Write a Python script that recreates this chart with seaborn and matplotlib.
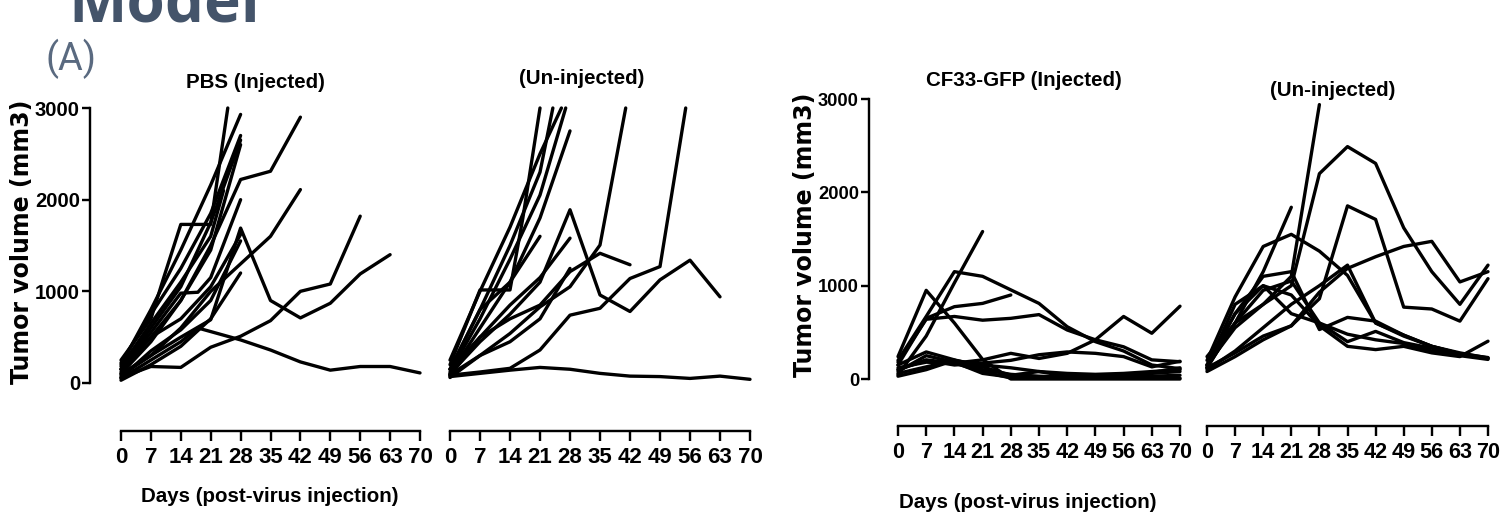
import numpy as np
import pandas as pd
import seaborn as sns
import matplotlib
matplotlib.use("Agg")
import matplotlib.pyplot as plt
from matplotlib import font_manager

# ---- data ----
days_grid = [0, 7, 14, 21, 28, 35, 42, 49, 56, 63, 70]

pbs_inj_days = [
    [0, 7, 10, 14, 21, 25],
    [0, 7, 14, 21, 28],
    [0, 7, 14, 21, 28],
    [0, 7, 14, 21, 28],
    [0, 7, 14, 21, 28],
    [0, 7, 14, 21, 28, 35, 42],
    [0, 7, 14, 21, 28, 35, 42],
    [0, 7, 14, 21, 28, 35, 42, 49, 56, 63],
    [0, 7, 14, 21, 28, 35, 42, 49, 56],
    [0, 7, 14, 18, 28, 35, 42, 49, 56, 63, 70],
    [0, 7, 14, 21, 24],
    [0, 7, 14, 21, 28],
    [0, 7, 14, 18, 21, 28],
    [0, 7, 14, 21, 28],
    [0, 7, 14, 21, 28],
]
pbs_inj_vol = [
    [250, 700, 1150, 1730, 1730, 3000],
    [200, 800, 1450, 2160, 2930],
    [150, 600, 1050, 1750, 2650],
    [100, 450, 900, 1450, 2600],
    [220, 750, 1250, 1850, 2700],
    [150, 500, 900, 1500, 2220, 2310, 2900],
    [80, 300, 600, 1000, 1300, 1600, 2110],
    [100, 300, 500, 690, 1690, 900, 710, 870, 1190, 1400],
    [60, 180, 170, 390, 510, 680, 1000, 1080, 1820],
    [50, 250, 450, 600, 470, 360, 230, 140, 180, 180, 110],
    [180, 650, 1100, 1600, 2100],
    [60, 350, 580, 900, 1550],
    [150, 550, 980, 990, 1150, 2000],
    [120, 500, 700, 1050, 1620],
    [30, 200, 400, 700, 1200],
]

pbs_un_days = [
    [0, 14, 21, 28, 35, 42, 49, 56, 63, 70],
    [0, 7, 14, 21, 28, 35, 42, 49, 55],
    [0, 7, 14, 21, 28, 35, 41],
    [0, 7, 14, 21, 28, 35, 42, 49, 56, 63],
    [0, 7, 14, 21, 28, 35, 42],
    [0, 7, 14, 17, 21],
    [0, 7, 14, 21, 24],
    [0, 7, 14, 21, 26],
    [0, 7, 14, 21, 27],
    [0, 7, 14, 21, 28],
    [0, 7, 14, 21, 28],
    [0, 7, 14, 21],
    [0, 7, 14, 21, 28],
]
pbs_un_vol = [
    [70, 140, 170, 150, 105, 75, 70, 50, 75, 40],
    [85, 120, 160, 360, 740, 815, 1140, 1270, 3000],
    [90, 300, 540, 830, 1050, 1505, 3000],
    [100, 450, 750, 1100, 1890, 960, 780, 1125, 1340, 940],
    [150, 500, 700, 850, 1215, 1415, 1290],
    [200, 1015, 1015, 1800, 3000],
    [150, 800, 1500, 2300, 3000],
    [250, 1000, 1700, 2500, 3000],
    [120, 700, 1350, 2050, 3000],
    [100, 600, 1100, 1800, 2750],
    [80, 500, 850, 1150, 1580],
    [150, 800, 1100, 1600],
    [60, 300, 450, 700, 1250],
]

cf33_inj_days = [days_grid, [0, 7, 14, 21], days_grid, [0, 7, 14, 21, 28]] + [days_grid] * 8
cf33_inj_vol = [
    [240, 950, 600, 210, 0, 0, 0, 0, 0, 0, 0],
    [45, 460, 1030, 1580],
    [200, 670, 1150, 1100, 955, 810, 560, 400, 300, 150, 110],
    [150, 650, 775, 810, 900],
    [180, 640, 670, 630, 650, 690, 525, 420, 345, 205, 185],
    [100, 205, 170, 205, 275, 220, 275, 420, 670, 490, 780],
    [150, 290, 205, 130, 40, 80, 30, 20, 20, 30, 40],
    [60, 130, 200, 150, 120, 80, 60, 50, 60, 80, 100],
    [100, 200, 150, 170, 200, 260, 290, 275, 240, 130, 190],
    [30, 100, 200, 100, 50, 30, 20, 20, 30, 60, 80],
    [80, 250, 180, 60, 20, 10, 10, 10, 10, 10, 10],
    [120, 180, 170, 80, 10, 10, 20, 30, 40, 70, 120],
]

cf33_un_days = [days_grid, [0, 7, 14, 21, 28], [0, 7, 14, 21]] + [days_grid] * 8
cf33_un_vol = [
    [240, 600, 800, 1000, 2200, 2490, 2310, 1620, 1150, 800, 1220],
    [150, 550, 800, 1100, 2940],
    [120, 600, 1150, 1840],
    [120, 280, 460, 570, 860, 1855, 1710, 770, 750, 620, 1075],
    [200, 880, 1420, 1550, 1370, 1110, 600, 460, 350, 280, 225],
    [80, 240, 420, 570, 930, 1185, 1310, 1420, 1475, 1040, 1150],
    [100, 300, 550, 800, 1000, 1220, 600, 470, 350, 270, 220],
    [150, 700, 1100, 1150, 530, 660, 620, 470, 350, 270, 230],
    [120, 600, 950, 1050, 600, 400, 510, 390, 330, 260, 220],
    [150, 700, 1000, 900, 570, 350, 315, 350, 280, 240, 405],
    [130, 800, 1000, 700, 600, 480, 420, 380, 300, 250, 210],
]

panel_titles = ["PBS (Injected)", "(Un-injected)", "CF33-GFP (Injected)", "(Un-injected)"]
x_ticks = [0, 7, 14, 21, 28, 35, 42, 49, 56, 63, 70]
y_ticks = [0, 1000, 2000, 3000]


def to_frame(days, vols):
    rows = []
    for i, (d, v) in enumerate(zip(days, vols)):
        for x, y in zip(d, v):
            rows.append((i, x, y))
    return pd.DataFrame(rows, columns=["mouse", "day", "vol"])


sns.set_style("ticks", {"text.color": "black", "xtick.color": "black",
                        "ytick.color": "black", "axes.edgecolor": "black",
                        "axes.labelcolor": "black"})
avail = {f.name for f in font_manager.fontManager.ttflist}
if "Liberation Sans Narrow" in avail:
    narrow, k = "Liberation Sans Narrow", 1.0
else:
    narrow, k = "Liberation Sans", 0.82

W, H = 1503, 524
PT = 0.72  # points per pixel at dpi 100
fig = plt.figure(figsize=(W / 100, H / 100), dpi=100)

# pixel boxes: (x at day 0, x at day 70, y at 0, y at 3000, left spine x, x-axis y)
boxes = [
    (121, 420, 383, 108, 90, 431),
    (450, 750, 383, 108, None, 431),
    (898, 1180, 379, 99, 869, 426),
    (1207, 1488, 379, 99, None, 426),
]
data = [(pbs_inj_days, pbs_inj_vol), (pbs_un_days, pbs_un_vol),
        (cf33_inj_days, cf33_inj_vol), (cf33_un_days, cf33_un_vol)]

for i, ((x0, x1, y0, y1, sx, ay), (dd, vv)) in enumerate(zip(boxes, data)):
    ax = fig.add_axes([x0 / W, 1 - y0 / H, (x1 - x0) / W, (y0 - y1) / H])
    df = to_frame(dd, vv)
    sns.lineplot(data=df, x="day", y="vol", units="mouse", estimator=None,
                 color="black", lw=2.4, clip_on=False, ax=ax)
    ax.set_xlim(0, 70)
    ax.set_ylim(0, 3000)
    ax.set_xlabel("")
    ax.set_ylabel("")
    ax.patch.set_alpha(0)
    for s in ["top", "right"]:
        ax.spines[s].set_visible(False)
    ax.spines["bottom"].set_position(("outward", (ay - y0) * PT))
    ax.spines["bottom"].set_linewidth(2.4 * PT)
    ax.set_xticks(x_ticks)
    xfs = (19.5 if i < 2 else 19.0) * k
    ax.set_xticklabels([str(t) for t in x_ticks], fontsize=xfs,
                       fontweight="bold", family=narrow)
    ax.tick_params(axis="x", bottom=True, direction="out", length=10 * PT,
                   width=2.4 * PT, pad=6 * PT, colors="black")
    if sx is None:
        ax.spines["left"].set_visible(False)
        ax.set_yticks([])
    else:
        ax.spines["left"].set_position(("outward", (x0 - sx) * PT))
        ax.spines["left"].set_linewidth(2.4 * PT)
        ax.set_yticks(y_ticks)
        yfs = 14.6 if i < 2 else 13.2
        ax.set_yticklabels([str(t) for t in y_ticks], fontsize=yfs,
                           fontweight="bold", family=narrow)
        ax.tick_params(axis="y", left=True, direction="out", length=8 * PT,
                       width=2.4 * PT, pad=2 * PT, colors="black")

# titles
title_pos = [(255, 82), (582, 78), (1024, 81), (1333, 91)]
for t, (tx, ty) in zip(panel_titles, title_pos):
    fig.text(tx / W, 1 - ty / H, t, ha="center", va="center",
             fontsize=18 * k, fontweight="bold", family=narrow, color="black")

# axis labels
for (lx, ly) in [(22, 242), (805, 235)]:
    fig.text(lx / W, 1 - ly / H, "Tumor volume (mm3)", rotation=90,
             ha="center", va="center", fontsize=17, fontweight="bold",
             family="DejaVu Sans", color="black")
for (lx, ly) in [(270, 496), (1028, 503)]:
    fig.text(lx / W, 1 - ly / H, "Days (post-virus injection)",
             ha="center", va="center", fontsize=18 * k, fontweight="bold",
             family=narrow, color="black")

# slide header fragments
fig.text(68 / W, 1 - 22 / H, "Model", ha="left", va="baseline",
         fontsize=62 * PT, fontweight="bold", color="#44546a",
         family=["Open Sans", "DejaVu Sans"])
fig.text(45 / W, 1 - 59 / H, "(A)", ha="left", va="center",
         fontsize=38 * PT, color="#5a6a80", family=["Roboto", "DejaVu Sans"])

fig.savefig("out.png", dpi=100, facecolor="white")
